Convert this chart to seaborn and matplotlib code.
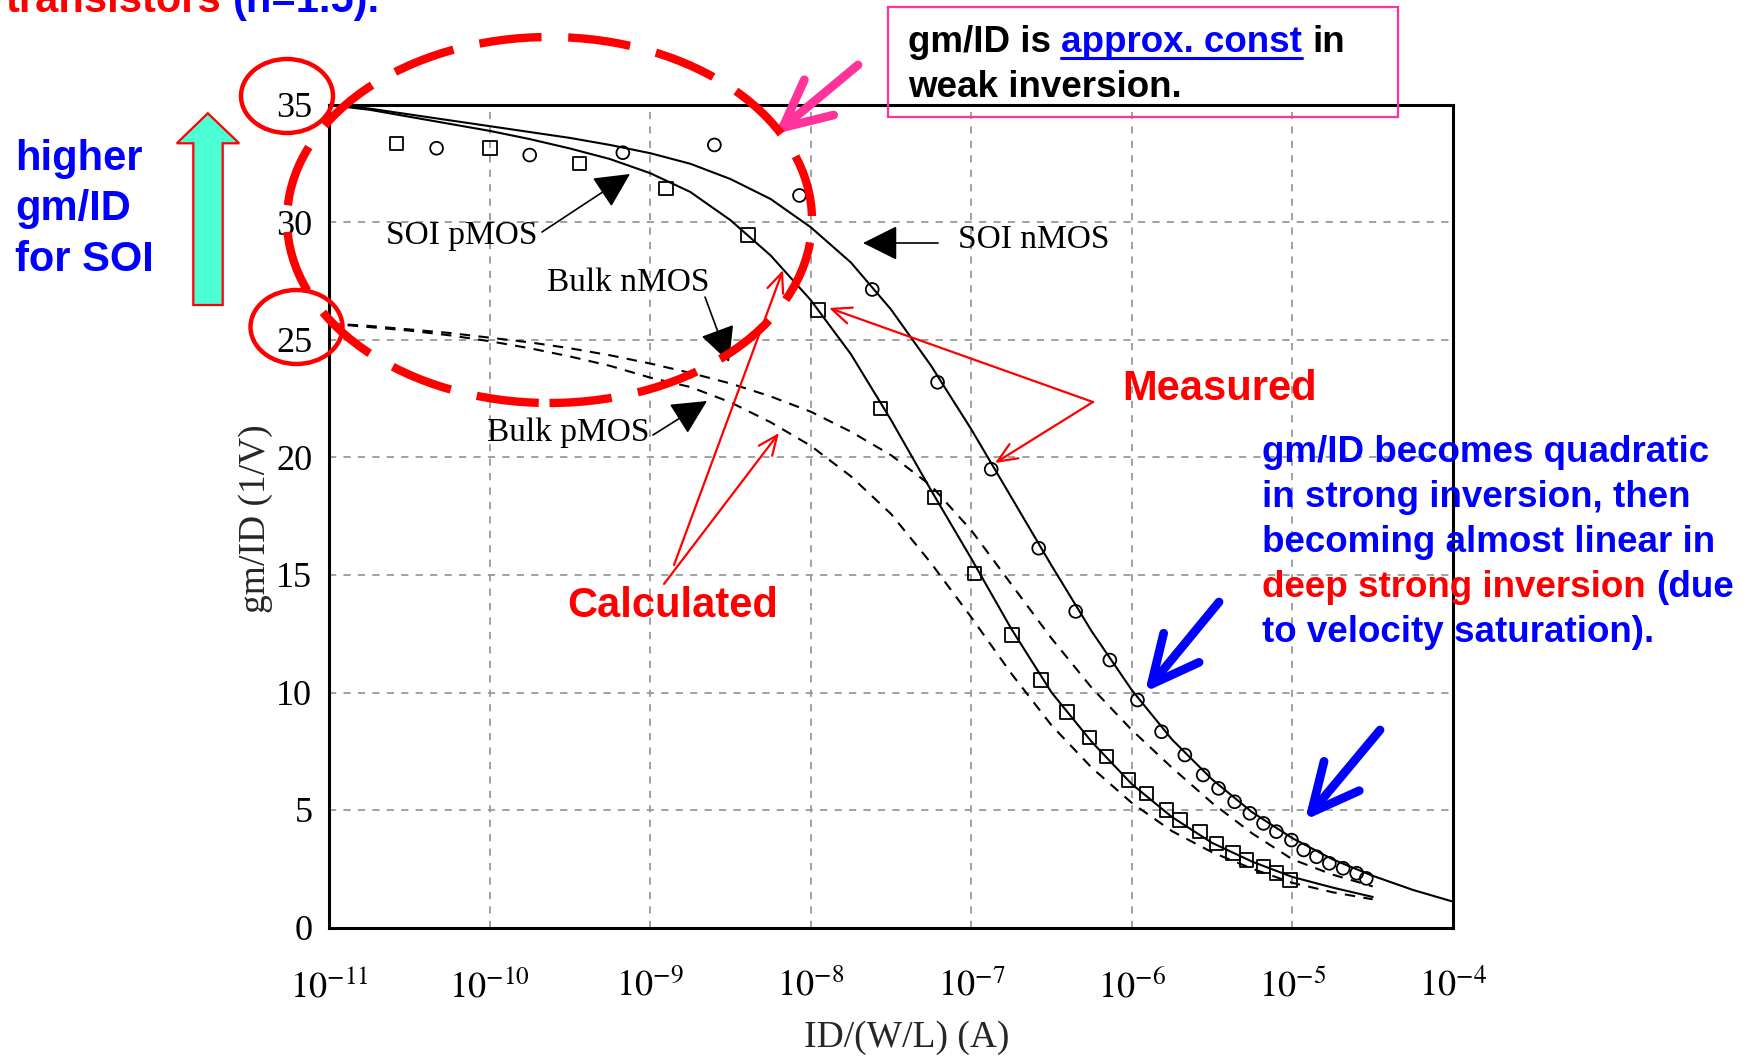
import matplotlib
matplotlib.use("Agg")
import numpy as np
import pandas as pd
import matplotlib.pyplot as plt
import seaborn as sns
from matplotlib.patches import Ellipse, Polygon, FancyArrowPatch, Rectangle
from matplotlib.lines import Line2D
from matplotlib.ticker import NullLocator

# ---------------- data ----------------
# log10 of ID/(W/L) for the calculated curves
calc_log_id = [-11.00, -10.75, -10.50, -10.25, -10.00, -9.75, -9.50, -9.25, -9.00,
               -8.75, -8.50, -8.25, -8.00, -7.75, -7.50, -7.25, -7.00, -6.75,
               -6.50, -6.25, -6.00, -5.75, -5.50, -5.25, -5.00, -4.75, -4.50,
               -4.25, -4.00]
soi_nmos_calc = [35.0, 34.85, 34.6, 34.35, 34.1, 33.85, 33.6, 33.3, 32.95,
                 32.5, 31.85, 31.0, 29.8, 28.3, 26.3, 23.9, 21.2, 18.3,
                 15.4, 12.6, 10.1, 8.0, 6.3, 4.9, 3.8, 2.9, 2.2, 1.6, 1.1]
soi_pmos_calc = [35.0, 34.8, 34.5, 34.2, 33.9, 33.55, 33.15, 32.7, 32.1,
                 31.3, 30.1, 28.6, 26.7, 24.4, 21.6, 18.6, 15.7, 12.7,
                 10.0, 7.9, 6.1, 4.7, 3.6, 2.8, 2.15, 1.7, 1.3]
bulk_nmos_calc = [25.7, 25.6, 25.45, 25.3, 25.1, 24.9, 24.65, 24.35, 24.0,
                  23.6, 23.15, 22.6, 21.95, 21.1, 20.1, 18.8, 16.9, 14.6,
                  12.3, 10.2, 8.4, 6.8, 5.3, 4.0, 2.9, 2.25, 1.75]
bulk_pmos_calc = [25.7, 25.55, 25.4, 25.2, 24.95, 24.65, 24.3, 23.9, 23.4,
                  23.0, 22.35, 21.5, 20.5, 19.2, 17.6, 15.5, 13.2, 10.8,
                  8.6, 6.8, 5.3, 4.1, 3.2, 2.5, 1.9, 1.5, 1.2]

# measured points (circles: SOI nMOS, squares: SOI pMOS)
soi_nmos_meas_log_id = [-10.33, -9.75, -9.17, -8.60, -8.07, -7.617, -7.21, -6.876,
                        -6.58, -6.35, -6.137, -5.965, -5.815, -5.67, -5.556, -5.46,
                        -5.36, -5.265, -5.18, -5.10, -5.006, -4.93, -4.85, -4.77,
                        -4.684, -4.60, -4.54]
soi_nmos_meas = [33.16, 32.87, 32.97, 33.3, 31.15, 27.15, 23.2, 19.5,
                 16.14, 13.45, 11.38, 9.68, 8.33, 7.34, 6.49, 5.92,
                 5.35, 4.86, 4.43, 4.08, 3.72, 3.30, 3.01, 2.73,
                 2.52, 2.31, 2.09]
soi_pmos_meas_log_id = [-10.58, -9.996, -9.44, -8.90, -8.392, -7.955, -7.565, -7.23,
                        -6.98, -6.745, -6.567, -6.405, -6.265, -6.157, -6.022, -5.908,
                        -5.784, -5.70, -5.576, -5.473, -5.37, -5.286, -5.18, -5.10,
                        -5.016]
soi_pmos_meas = [33.37, 33.16, 32.52, 31.45, 29.47, 26.28, 22.09, 18.3,
                 15.07, 12.45, 10.53, 9.18, 8.09, 7.27, 6.28, 5.71,
                 5.0, 4.57, 4.08, 3.58, 3.16, 2.87, 2.59, 2.31,
                 2.02]

x_tick_exp = [-11, -10, -9, -8, -7, -6, -5, -4]
x_tick_labels = [r'$10^{-11}$', r'$10^{-10}$', r'$10^{-9}$', r'$10^{-8}$',
                 r'$10^{-7}$', r'$10^{-6}$', r'$10^{-5}$', r'$10^{-4}$']
y_ticks = [0, 5, 10, 15, 20, 25, 30, 35]

# ---------------- style ----------------
W, H = 1752, 1056
sns.set_style("white")
plt.rcParams['font.family'] = ['Liberation Serif', 'DejaVu Serif']
plt.rcParams['mathtext.fontset'] = 'stix'

RED = '#FF0000'
BLUE = '#0000FF'
PINK = '#FF3399'
SANS = ['Liberation Sans', 'DejaVu Sans']

fig = plt.figure(figsize=(W / 100, H / 100), dpi=100)
fig.patch.set_facecolor('white')


def fx(x):
    return x / W


def fy(y):
    return 1 - y / H


ax = fig.add_axes([fx(329), fy(927.5), (1453 - 329) / W, (927.5 - 105) / H])


def to_df(logs, vals):
    return pd.DataFrame({'id': [10.0 ** v for v in logs[:len(vals)]], 'gm': vals})


# calculated curves
sns.lineplot(data=to_df(calc_log_id, soi_nmos_calc), x='id', y='gm', ax=ax,
             color='black', lw=1.5, estimator=None, sort=False)
sns.lineplot(data=to_df(calc_log_id, soi_pmos_calc), x='id', y='gm', ax=ax,
             color='black', lw=1.5, estimator=None, sort=False)
sns.lineplot(data=to_df(calc_log_id, bulk_nmos_calc), x='id', y='gm', ax=ax,
             color='black', lw=1.5, estimator=None, sort=False, linestyle=(0, (5, 4)))
sns.lineplot(data=to_df(calc_log_id, bulk_pmos_calc), x='id', y='gm', ax=ax,
             color='black', lw=1.5, estimator=None, sort=False, linestyle=(0, (5, 4)))

# measured markers
sns.scatterplot(data=to_df(soi_nmos_meas_log_id, soi_nmos_meas), x='id', y='gm', ax=ax,
                marker='o', s=85, facecolor='none', edgecolor='black', linewidth=1.3,
                zorder=4)
sns.scatterplot(data=to_df(soi_pmos_meas_log_id, soi_pmos_meas), x='id', y='gm', ax=ax,
                marker='s', s=95, facecolor='none', edgecolor='black', linewidth=1.3,
                zorder=4)

ax.set_xscale('log')
ax.set_xlim(10.0 ** x_tick_exp[0], 10.0 ** x_tick_exp[-1])
ax.set_ylim(y_ticks[0], y_ticks[-1])
ax.set_xticks([10.0 ** e for e in x_tick_exp])
ax.set_xticklabels(x_tick_labels)
ax.xaxis.set_minor_locator(NullLocator())
ax.set_yticks(y_ticks)
ax.set_yticklabels([str(v) for v in y_ticks])
ax.grid(True, which='major', color='#9a9a9a', linestyle=(0, (4, 4)), lw=1.3)
for s in ax.spines.values():
    s.set_linewidth(2.2)
    s.set_color('black')
ax.tick_params(axis='both', direction='out', length=6, width=1.5, colors='black')
ax.tick_params(axis='x', labelsize=26, pad=24)
ax.tick_params(axis='y', labelsize=26, pad=6)

ax.set_xlabel('ID/(W/L) (A)', fontsize=27)
ax.xaxis.label.set_va('center')
ax.xaxis.set_label_coords((907 - 329) / 1124, -(1038 - 927.5) / 822.5)
ax.set_ylabel('gm/ID (1/V)', fontsize=27)
ax.yaxis.label.set_va('center')
ax.yaxis.set_label_coords((256 - 329) / 1124, (927.5 - 519) / 822.5)

# ---------------- annotations (figure pixel coordinates) ----------------
def P(x, y):
    return (fx(x), fy(y))


# curve labels with filled black arrows
lab_kw = dict(fontsize=24, ha='center', va='center', color='black')
fig.text(*P(461.5, 236), 'SOI pMOS', **lab_kw)
fig.text(*P(1034, 240), 'SOI nMOS', **lab_kw)
fig.text(*P(628, 282.5), 'Bulk nMOS', **lab_kw)
fig.text(*P(568, 433), 'Bulk pMOS', **lab_kw)


def farrow(tail, tip, style, color, lw, ms=10, zorder=6):
    a = FancyArrowPatch(P(*tail), P(*tip), transform=fig.transFigure,
                        arrowstyle=style, color=color, lw=lw, mutation_scale=ms,
                        shrinkA=0, shrinkB=0, capstyle='round', joinstyle='round',
                        zorder=zorder)
    fig.add_artist(a)


blk = '-|>,head_length=2.2,head_width=1.1'
farrow((542, 232), (630, 174), blk, 'black', 1.2)
farrow((938, 243), (863, 243), blk, 'black', 1.2)
farrow((705, 297), (729, 362), blk, 'black', 1.2)
farrow((653, 435), (707, 401), blk, 'black', 1.2)

# red dashed ellipse
fig.add_artist(Ellipse(P(549.5, 220), 525 / W, 366 / H, transform=fig.transFigure,
                       fill=False, edgecolor=RED, lw=6, linestyle=(0, (7.5, 3.2)),
                       zorder=7))
# red circles around 35 and 25
fig.add_artist(Ellipse(P(287, 96), 92 / W, 74 / H, transform=fig.transFigure,
                       fill=False, edgecolor=RED, lw=3.2, zorder=7))
fig.add_artist(Ellipse(P(296.5, 327), 92 / W, 74 / H, transform=fig.transFigure,
                       fill=False, edgecolor=RED, lw=3.2, zorder=7))

# cyan up arrow
arrow_pts = [(193.3, 305), (222.7, 305), (222.7, 143.3), (239.2, 143.3),
             (207.8, 113.3), (176.8, 143.3), (193.3, 143.3)]
fig.add_artist(Polygon([P(x, y) for x, y in arrow_pts], closed=True,
                       transform=fig.transFigure, facecolor='#4CFFD4',
                       edgecolor=RED, lw=1.6, zorder=7))

# left blue text
sans_b = dict(family=SANS, fontweight='bold', va='baseline', ha='left')
fig.text(*P(15, 170), 'higher', color=BLUE, fontsize=30, **sans_b)
fig.text(*P(15, 220), 'gm/ID', color=BLUE, fontsize=30, **sans_b)
fig.text(*P(15, 271), 'for SOI', color=BLUE, fontsize=30, **sans_b)

fig.canvas.draw()
renderer = fig.canvas.get_renderer()


def chain(prev, s, color, fontsize, space=True):
    bb = prev.get_window_extent(renderer)
    gap = 0.278 * fontsize * 100 / 72 if space else 0
    x = (bb.x1 + gap) / W
    return fig.text(x, prev.get_position()[1], s, color=color, fontsize=fontsize, **sans_b)


# cut-off title at the top (the reference shows only its lower part)
t = fig.text(*P(6, 11.7), 'transistors', color=RED, fontsize=30, **sans_b)
chain(t, '(n=1.5).', BLUE, 30)

# pink box
fig.add_artist(Rectangle(P(888, 116.7), 510 / W, 110 / H, transform=fig.transFigure,
                         fill=False, edgecolor=PINK, lw=1.6, zorder=7))
fs_box = 26.5
t1 = fig.text(*P(908, 51.7), 'gm/ID is', color='black', fontsize=fs_box, **sans_b)
t2 = chain(t1, 'approx. const', BLUE, fs_box)
t3 = chain(t2, 'in', 'black', fs_box)
fig.text(*P(908, 96.7), 'weak inversion.', color='black', fontsize=fs_box, **sans_b)
fig.canvas.draw()
bb2 = t2.get_window_extent(renderer)
fig.add_artist(Line2D([bb2.x0 / W, bb2.x1 / W], [fy(58.3), fy(58.3)],
                      transform=fig.transFigure, color=BLUE, lw=2.2, zorder=7))

# thick open arrows (pink, blue)
thick = '->,head_length=3.4,head_width=1.65'
farrow((858, 65), (775, 134), thick, PINK, 6.3)
farrow((1219, 602), (1145, 692), thick, BLUE, 6.3)
farrow((1380, 730), (1305, 820), thick, BLUE, 6.3)

# Measured / Calculated
fig.text(*P(1220, 389), 'Measured', color=RED, fontsize=30, family=SANS,
         fontweight='bold', ha='center', va='center')
fig.text(*P(673, 606), 'Calculated', color=RED, fontsize=30, family=SANS,
         fontweight='bold', ha='center', va='center')
thin = '->,head_length=1.4,head_width=0.6'
farrow((1093, 402), (829, 308), thin, RED, 1.6)
farrow((1093, 402), (995, 463), thin, RED, 1.6)
farrow((674, 565), (783, 270), thin, RED, 1.6)
farrow((664, 584), (779, 433), thin, RED, 1.6)

# blue explanatory paragraph
fs_p = 26.5
fig.text(*P(1262, 462), 'gm/ID becomes quadratic', color=BLUE, fontsize=fs_p, **sans_b)
fig.text(*P(1262, 507), 'in strong inversion, then', color=BLUE, fontsize=fs_p, **sans_b)
fig.text(*P(1262, 552), 'becoming almost linear in', color=BLUE, fontsize=fs_p, **sans_b)
t4 = fig.text(*P(1262, 597), 'deep strong inversion', color=RED, fontsize=fs_p, **sans_b)
chain(t4, '(due', BLUE, fs_p)
fig.text(*P(1262, 642), 'to velocity saturation).', color=BLUE, fontsize=fs_p, **sans_b)

fig.savefig('out.png', dpi=100, facecolor='white')
